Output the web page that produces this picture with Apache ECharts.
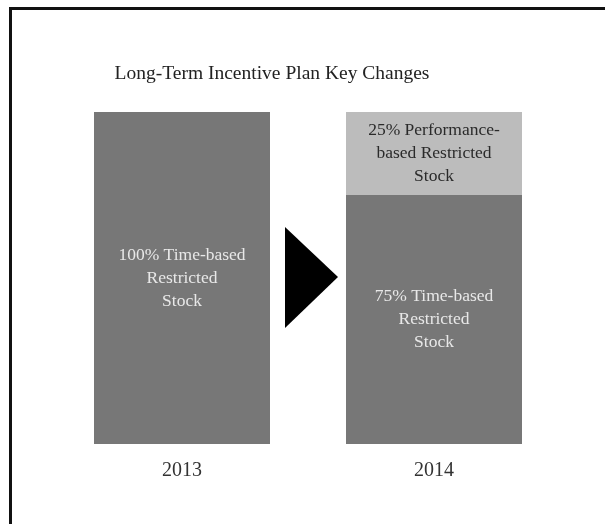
<!DOCTYPE html>
<html>
<head>
<meta charset="utf-8">
<script src="https://cdn.jsdelivr.net/npm/echarts@6/dist/echarts.min.js"></script>
<style>
  html, body { margin: 0; padding: 0; background: #fff; }
  #chart { width: 605px; height: 524px; }
</style>
</head>
<body>
<div id="chart"></div>
<script>
// data
const years = ['2013', '2014']
const timeBased = [100, 75]
const perfBased = [0, 25]
const timeLabels = ['100% Time-based\nRestricted\nStock', '75% Time-based\nRestricted\nStock']
const perfLabels = ['', '25% Performance-\nbased Restricted\nStock']

const chart = echarts.init(document.getElementById('chart'))

const serif = '"Liberation Serif", "DejaVu Serif", serif'

const option = {
  backgroundColor: '#fff',
  animation: false,
  title: {
    text: 'Long-Term Incentive Plan Key Changes',
    left: 267,
    top: 59,
    textAlign: 'center',
    textStyle: { fontFamily: serif, fontSize: 19.5, fontWeight: 'normal', color: '#222' }
  },
  grid: { left: 56, right: 45, top: 112, bottom: 80 },
  xAxis: {
    type: 'category',
    data: years,
    axisLine: { show: false },
    axisTick: { show: false },
    axisLabel: { fontFamily: serif, fontSize: 20, color: '#333', margin: 17 }
  },
  yAxis: {
    type: 'value',
    min: 0,
    max: 100,
    show: false
  },
  series: [
    {
      name: 'Time-based',
      type: 'bar',
      stack: 'plan',
      barWidth: 176,
      data: timeBased,
      itemStyle: { color: '#777777' },
      label: {
        show: true,
        position: 'inside',
        fontFamily: serif,
        fontSize: 17.5,
        lineHeight: 23,
        color: '#e8e8e8',
        formatter: p => timeLabels[p.dataIndex]
      }
    },
    {
      name: 'Performance-based',
      type: 'bar',
      stack: 'plan',
      barWidth: 176,
      data: perfBased,
      itemStyle: { color: '#bcbcbc' },
      label: {
        show: true,
        position: 'inside',
        fontFamily: serif,
        fontSize: 17.5,
        lineHeight: 23,
        color: '#2a2a2a',
        formatter: p => perfLabels[p.dataIndex]
      }
    }
  ],
  graphic: [
    {
      type: 'polygon',
      shape: { points: [[285, 227], [338, 277], [285, 328]] },
      style: { fill: '#000' }
    },
    {
      type: 'rect',
      shape: { x: 10.5, y: 8.5, width: 700, height: 600 },
      style: { fill: 'none', stroke: '#111', lineWidth: 3 }
    }
  ]
}

chart.setOption(option)
</script>
</body>
</html>
